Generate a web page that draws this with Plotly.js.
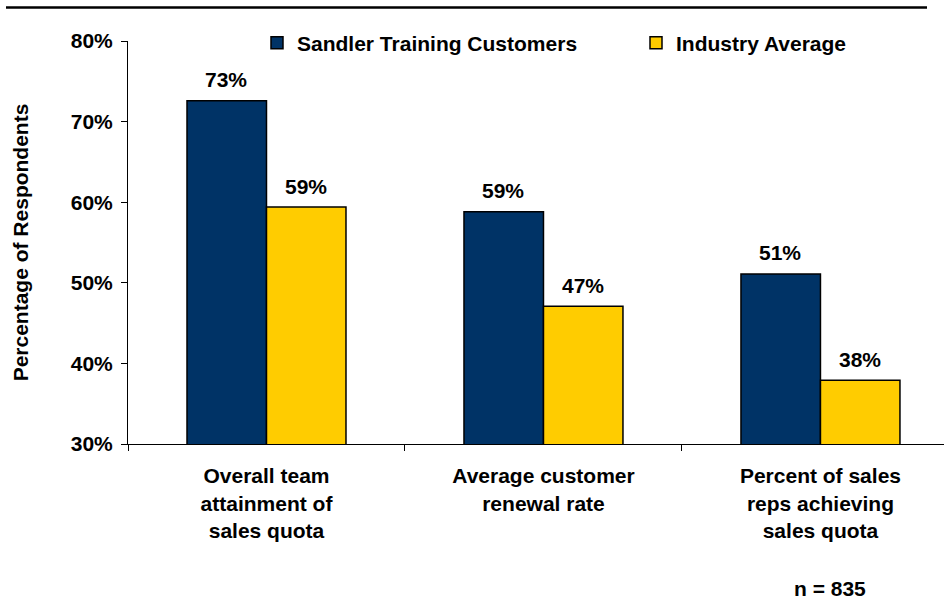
<!DOCTYPE html>
<html>
<head>
<meta charset="utf-8">
<script src="https://cdn.plot.ly/plotly-3.0.1.min.js"></script>
<style>html,body{margin:0;padding:0;background:#fff;}#chart{width:944px;height:603px;}</style>
</head>
<body>
<div id="chart"></div>
<script>
const categories = ["Overall team<br>attainment of<br>sales quota", "Average customer<br>renewal rate", "Percent of sales<br>reps achieving<br>sales quota"];
const seriesNames = ["Sandler Training Customers", "Industry Average"];
const sandlerValues = [72.6, 58.8, 51.1];
const industryValues = [59.4, 47.1, 37.9];
const yTickValues = [30, 40, 50, 60, 70, 80];
const yTickLabels = ["30%", "40%", "50%", "60%", "70%", "80%"];
const footnote = "n = 835";

const FONT = "Liberation Sans, Arial, sans-serif";
const fnt = (s) => ({family: FONT, size: s, color: "#000", weight: "bold"});
const L = 128, PW = 816, T = 41, PH = 403;
const px2x = (p) => (p - L) / PW;
const py2y = (p) => 1 - (p - T) / PH;

const traces = [
  {type: "bar", name: seriesNames[0], x: categories, y: sandlerValues, legend: "legend",
   marker: {color: "#003366", line: {color: "#000", width: 1.5}}, hoverinfo: "none"},
  {type: "bar", name: seriesNames[1], x: categories, y: industryValues, legend: "legend2",
   marker: {color: "#FFCC00", line: {color: "#000", width: 1.5}}, hoverinfo: "none"}
];

const annotations = [];
[sandlerValues, industryValues].forEach((vals, si) => {
  vals.forEach((v, i) => {
    annotations.push({x: categories[i], y: v, xref: "x", yref: "y",
      text: Math.round(v) + "%", showarrow: false, font: fnt(21),
      xanchor: "center", yanchor: "middle", xshift: si === 0 ? -40 : 40, yshift: 21});
  });
});
annotations.push({xref: "paper", yref: "paper", x: px2x(829.5), y: 0, yshift: -157,
  text: footnote, showarrow: false, font: fnt(21), xanchor: "center", yanchor: "bottom", borderpad: 0});

const legendBase = {orientation: "h", xanchor: "left", yanchor: "middle", font: fnt(21),
  bgcolor: "rgba(0,0,0,0)", borderwidth: 0};

const layout = {
  width: 944, height: 603,
  margin: {l: L, r: 0, t: T, b: 603 - T - PH},
  paper_bgcolor: "#fff", plot_bgcolor: "#fff",
  barmode: "group", bargap: 0.426, bargroupgap: 0,
  showlegend: true,
  legend: Object.assign({}, legendBase, {x: px2x(257), y: py2y(43)}),
  legend2: Object.assign({}, legendBase, {x: px2x(636), y: py2y(43)}),
  xaxis: {type: "category", range: [-0.5, 2.446], tickson: "boundaries", ticks: "outside",
    ticklen: 6, tickcolor: "#000", showline: true, linecolor: "#000", linewidth: 1,
    showgrid: false, tickfont: fnt(21), ticklabelstandoff: 13, fixedrange: true},
  yaxis: {range: [30, 80], tickmode: "array", tickvals: yTickValues, ticktext: yTickLabels,
    ticks: "outside", ticklen: 6,
    tickcolor: "#000", showline: true, linecolor: "#000", linewidth: 1, showgrid: false,
    zeroline: false, tickfont: fnt(21), ticklabelstandoff: 4,
    title: {text: "Percentage of Respondents", font: fnt(21), standoff: 36}, fixedrange: true},
  shapes: [{type: "line", xref: "paper", yref: "paper", x0: px2x(6), x1: px2x(927),
    y0: py2y(7.5), y1: py2y(7.5), line: {color: "#000", width: 2.5}}],
  annotations: annotations
};

Plotly.newPlot("chart", traces, layout, {displayModeBar: false, staticPlot: true});
</script>
</body>
</html>
